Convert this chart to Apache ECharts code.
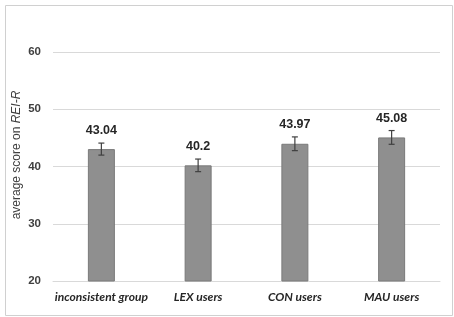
<!DOCTYPE html>
<html>
<head>
<meta charset="utf-8">
<script src="https://cdn.jsdelivr.net/npm/echarts@6/dist/echarts.min.js"></script>
<style>
  html, body { margin: 0; padding: 0; background: #fff; }
  #chart { width: 454px; height: 317px; }
</style>
</head>
<body>
<div id="chart"></div>
<script>
var groups = ['inconsistent group', 'LEX users', 'CON users', 'MAU users'];
var scores = [43.04, 40.2, 43.97, 45.08];
var errors = [1.05, 1.1, 1.2, 1.2];
var yTicks = [20, 30, 40, 50, 60];

var chart = echarts.init(document.getElementById('chart'));

// error bar + value label drawn on top of each bar
function renderError(params, api){
	var i = api.value(0);
	var top = api.coord([i, api.value(1) + api.value(2)]);
	var bot = api.coord([i, api.value(1) - api.value(2)]);
	var x = top[0];
	var cap = 3;
	var st = { stroke: '#404040', lineWidth: 1.2 };
	return {
		type: 'group',
		children: [
			{ type: 'line', shape: { x1: x, y1: top[1], x2: x, y2: bot[1] }, style: st },
			{ type: 'line', shape: { x1: x - cap, y1: top[1], x2: x + cap, y2: top[1] }, style: st },
			{ type: 'line', shape: { x1: x - cap, y1: bot[1], x2: x + cap, y2: bot[1] }, style: st },
			{ type: 'text', x: x, y: top[1] - 6, style: {
				text: String(api.value(1)), align: 'center', verticalAlign: 'bottom',
				font: 'bold 12.5px "Liberation Sans", Arial, sans-serif', fill: '#262626'
			} }
		]
	};
}

var option = {
	animation: false,
	backgroundColor: '#fff',
	grid: { left: 53, right: 14, top: 52, bottom: 36 },
	graphic: [
		{ type: 'rect', left: 3, top: 3, shape: { width: 447, height: 310 },
		  style: { fill: 'none', stroke: '#d0d0d0', lineWidth: 1 }, z: -1 },
		{ type: 'text', x: 17, y: 155, rotation: Math.PI / 2, style: {
			text: 'average score on {i|REI-R}', align: 'center', verticalAlign: 'middle',
			font: '12px "Liberation Sans", Arial, sans-serif', fill: '#404040',
			rich: { i: { fontStyle: 'italic', fontSize: 12, fontFamily: '"Liberation Sans", Arial, sans-serif', fill: '#404040' } }
		} }
	],
	xAxis: {
		type: 'category',
		data: groups,
		axisTick: { show: false },
		axisLine: { show: true, lineStyle: { color: '#d9d9d9' } },
		axisLabel: {
			interval: 0,
			color: '#262626', fontWeight: 'bold', fontStyle: 'italic',
			fontSize: 12, fontFamily: 'Lato, "Liberation Sans", sans-serif', margin: 10
		}
	},
	yAxis: {
		type: 'value',
		min: yTicks[0], max: yTicks[yTicks.length - 1], interval: 10,
		axisLine: { show: false },
		axisTick: { show: false },
		splitLine: { lineStyle: { color: '#d9d9d9' } },
		axisLabel: {
			color: '#404040', fontWeight: 'bold', fontSize: 11.5,
			fontFamily: '"Liberation Sans", Arial, sans-serif', margin: 12
		}
	},
	series: [
		{
			type: 'bar',
			data: scores,
			barWidth: 27,
			itemStyle: { color: '#8f8f8f', borderColor: '#7a7a7a', borderWidth: 1 }
		},
		{
			type: 'custom',
			renderItem: renderError,
			data: scores.map(function(v, i){ return [i, v, errors[i]]; }),
			z: 10
		}
	]
};
chart.setOption(option);
</script>
</body>
</html>
